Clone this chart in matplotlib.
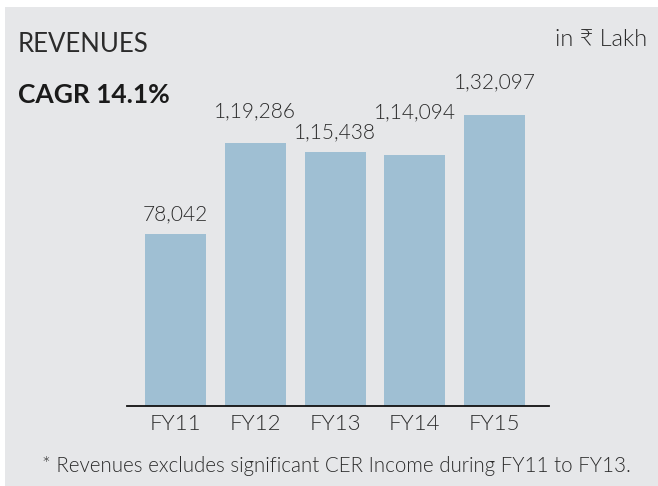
import matplotlib
matplotlib.use("Agg")
import matplotlib.pyplot as plt
from matplotlib.patches import Rectangle
import numpy as np

plt.rcParams['font.family'] = ['Lato', 'DejaVu Sans']

years = ['FY11', 'FY12', 'FY13', 'FY14', 'FY15']
revenues = [78042, 119286, 115438, 114094, 132097]
value_labels = ['78,042', '1,19,286', '1,15,438', '1,14,094', '1,32,097']

# gap between bar top and label baseline, in points (labels sit unevenly in the original)
label_gaps = [10, 19, 9.5, 26.5, 19.5]

W, H = 658, 486
bg = '#e6e7e9'
bar_color = '#9fbfd3'
txt = '#2b2b2b'
LIGHT = 300

fig = plt.figure(figsize=(W / 100, H / 100), dpi=100)
fig.patch.set_facecolor('white')
fig.patches.append(Rectangle((5 / W, 0), 1 - 5 / W, 1 - 7 / H, transform=fig.transFigure,
                             facecolor=bg, edgecolor='none', zorder=0))

ax = fig.add_axes([127 / W, 80 / H, 422 / W, 306 / H])
ax.set_facecolor('none')
ax.set_zorder(2)

x = np.arange(len(years))
bars = ax.bar(x, revenues, width=0.765, color=bar_color, zorder=2)
ax.set_xlim(-0.608, 4.683)
ax.set_ylim(0, 139000)

for b, lab, gap in zip(bars, value_labels, label_gaps):
    ax.annotate(lab, (b.get_x() + b.get_width() / 2, b.get_height()),
                xytext=(0, gap), textcoords='offset points',
                ha='center', va='baseline', fontsize=15, color=txt,
                fontweight=LIGHT, annotation_clip=False)

ax.set_xticks(x)
ax.set_xticklabels(years, fontsize=16, color=txt, fontweight=LIGHT)
ax.tick_params(axis='x', length=0, pad=5.5)
ax.set_yticks([])
for s in ['top', 'right', 'left']:
    ax.spines[s].set_visible(False)
ax.spines['bottom'].set_color('#111111')
ax.spines['bottom'].set_linewidth(1.3)

fig.text(18 / W, 1 - 52 / H, 'REVENUES', fontsize=18.5, color=txt, ha='left', va='baseline')
fig.text(18 / W, 1 - 103 / H, 'CAGR 14.1%', fontsize=19, fontweight='bold', color='#1a1a1a',
         ha='left', va='baseline')
fig.text(647 / W, 1 - 46 / H, 'in ₹ Lakh', fontsize=17, color=txt, ha='right', va='baseline',
         fontweight=LIGHT)
fig.text(42 / W, 1 - 472 / H,
         '* Revenues excludes significant CER Income during FY11 to FY13.',
         fontsize=14.8, color=txt, ha='left', va='baseline', fontweight=LIGHT)

fig.savefig('out.png', dpi=100, facecolor=fig.get_facecolor())
